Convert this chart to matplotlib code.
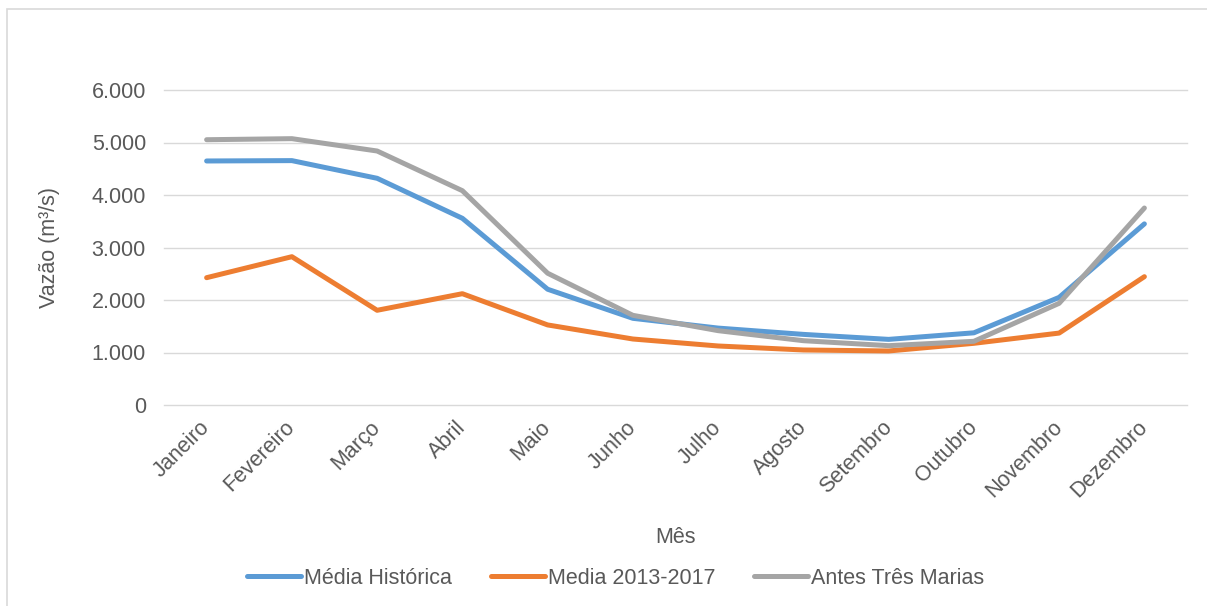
import matplotlib
matplotlib.use("Agg")
import matplotlib.pyplot as plt
from matplotlib.ticker import FuncFormatter
from matplotlib.patches import Rectangle
from matplotlib.transforms import ScaledTranslation

plt.rcParams["font.family"] = ["Liberation Sans", "DejaVu Sans"]

meses = ["Janeiro", "Fevereiro", "Março", "Abril", "Maio", "Junho", "Julho",
         "Agosto", "Setembro", "Outubro", "Novembro", "Dezembro"]

media_historica = [4648, 4655, 4318, 3556, 2205, 1651, 1465, 1345, 1250, 1375, 2050, 3450]
media_2013_2017 = [2425, 2825, 1804, 2120, 1525, 1257, 1124, 1048, 1029, 1175, 1370, 2444]
antes_tres_marias = [5053, 5073, 4838, 4082, 2510, 1708, 1416, 1225, 1130, 1213, 1937, 3752]

series = [
    ("Média Histórica", media_historica, "#5B9BD5"),
    ("Media 2013-2017", media_2013_2017, "#ED7D31"),
    ("Antes Três Marias", antes_tres_marias, "#A5A5A5"),
]

txt = "#595959"
fs = 15.5

fig = plt.figure(figsize=(12.07, 6.06), dpi=100)
ax = fig.add_axes([164 / 1207, 1 - 405 / 606, (1187 - 164) / 1207, (405 - 90) / 606])

x = list(range(len(meses)))
for nome, vals, cor in series:
    ax.plot(x, vals, color=cor, lw=3.6, label=nome,
            solid_capstyle="round", solid_joinstyle="round")

ax.set_xlim(-0.5, len(meses) - 0.5)
ax.set_ylim(0, 6000)
ax.set_yticks(range(0, 6001, 1000))
ax.yaxis.set_major_formatter(FuncFormatter(lambda v, p: f"{int(v):,}".replace(",", ".")))
ax.grid(axis="y", color="#D9D9D9", lw=1.0)
ax.set_axisbelow(True)
for gl in ax.get_ygridlines():
    gl.set_clip_on(False)
for s in ax.spines.values():
    s.set_visible(False)

ax.set_xticks(x)
ax.set_xticklabels(meses, rotation=45, ha="right", va="center",
                   rotation_mode="anchor")
# nudge the rotated month names a little right and down
shift = ScaledTranslation(4 / 100, -3 / 100, fig.dpi_scale_trans)
for lbl in ax.get_xticklabels():
    lbl.set_transform(lbl.get_transform() + shift)
ax.tick_params(axis="x", length=0, pad=14, labelsize=fs, labelcolor=txt)
ax.tick_params(axis="y", length=0, pad=13, labelsize=fs, labelcolor=txt)

ax.set_xlabel("Mês", fontsize=fs, color=txt)
ax.xaxis.set_label_coords(0.5, -(527 - 405) / 315)
ax.set_ylabel("Vazão (m³/s)", fontsize=fs, color=txt)
ax.yaxis.set_label_coords(-(164 - 60) / 1023, 0.5)

fig.legend(loc="center", bbox_to_anchor=(616 / 1207, 1 - 578 / 606), ncol=3,
           frameon=False, fontsize=fs, labelcolor=txt, handlelength=2.5,
           handletextpad=0.15, columnspacing=1.8)

# chart area border (only left and top edges fall inside the image)
fig.patches.append(Rectangle((7 / 1207, -0.2), 1.2, 1.2 - 9 / 606,
                             transform=fig.transFigure, fill=False,
                             edgecolor="#D9D9D9", lw=1.2, clip_on=False))

fig.savefig("out.png", dpi=100)
